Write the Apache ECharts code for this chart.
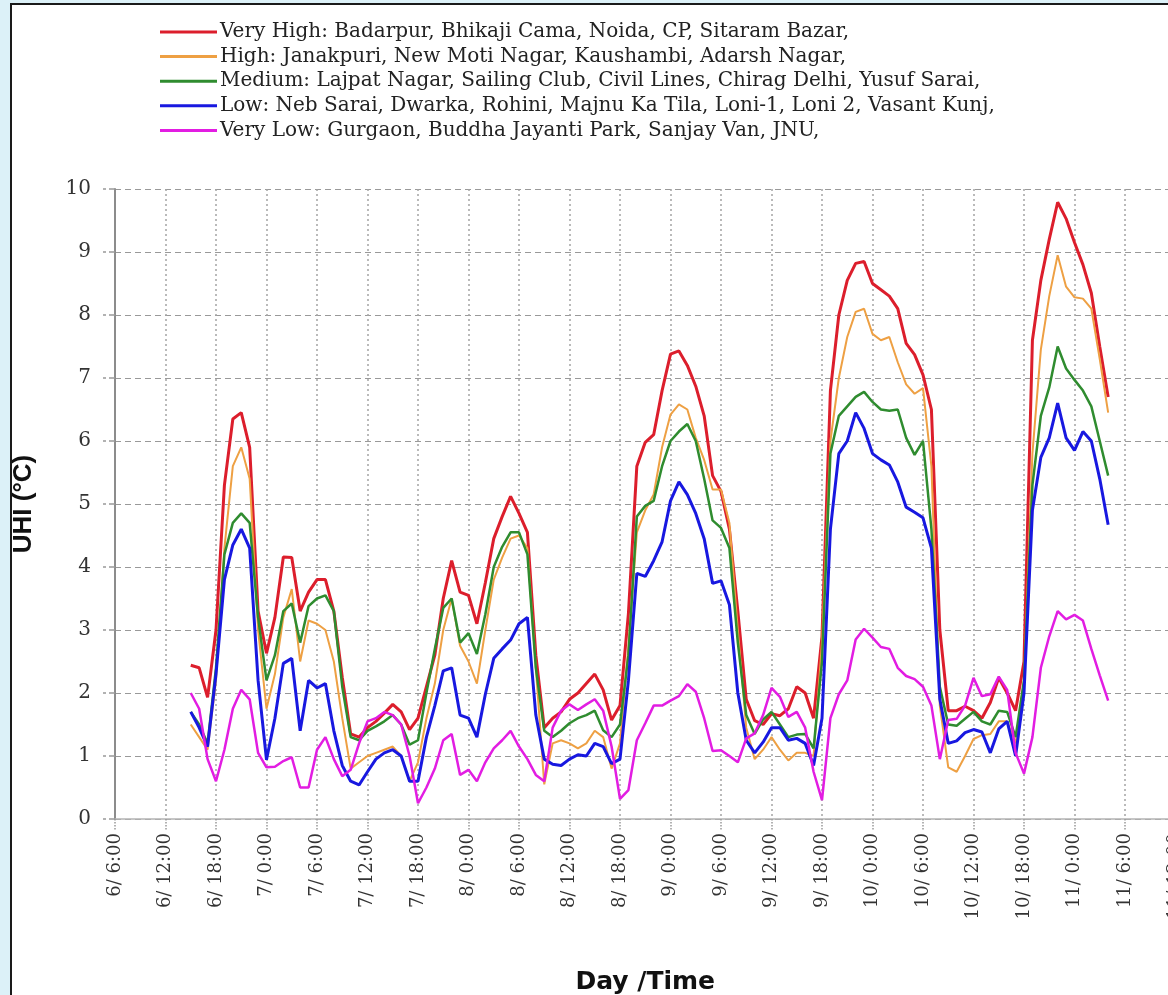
<!DOCTYPE html>
<html>
<head>
<meta charset="utf-8">
<script src="https://cdn.jsdelivr.net/npm/echarts@6/dist/echarts.min.js"></script>
<style>
  html, body { margin: 0; padding: 0; width: 1168px; height: 995px; overflow: hidden; background: #dcf1f8; }
  #frame { position: absolute; left: 10px; top: 3px; right: 0; bottom: 0; background: #ffffff;
           border-left: 2px solid #1a1a1a; border-top: 2px solid #1a1a1a; }
  #chart { position: absolute; left: 0; top: 0; width: 1168px; height: 995px; }
</style>
</head>
<body>
<div id="frame"></div>
<div id="chart"></div>
<script>
// Hours elapsed since 6/6:00
const hours = [9,10,11,12,13,14,15,16,17,18,19,20,21,22,23,24,25,26,27,28,29,30,31,32,33,34,35,36,37,38,
  39,40,41,42,43,44,45,46,47,48,49,50,51,52,53,54,55,56,57,58,59,60,61,62,63,64,65,66,67,68,
  69,70,71,72,73,74,75,76,77,78,79,80,81,82,83,84,85,86,87,88,89,90,91,92,93,94,95,96,97,98,
  99,100,101,102,103,104,105,106,107,108,109,110,111,112,113,114,115,116,117,118];

const tickLabels = ['6/ 6:00','6/ 12:00','6/ 18:00','7/ 0:00','7/ 6:00','7/ 12:00','7/ 18:00',
  '8/ 0:00','8/ 6:00','8/ 12:00','8/ 18:00','9/ 0:00','9/ 6:00','9/ 12:00','9/ 18:00',
  '10/ 0:00','10/ 6:00','10/ 12:00','10/ 18:00','11/ 0:00','11/ 6:00','11/ 12:00'];

const seriesNames = [
  'Very High: Badarpur, Bhikaji Cama, Noida, CP, Sitaram Bazar,',
  'High: Janakpuri, New Moti Nagar, Kaushambi, Adarsh Nagar,',
  'Medium: Lajpat Nagar, Sailing Club, Civil Lines, Chirag Delhi, Yusuf Sarai,',
  'Low: Neb Sarai, Dwarka, Rohini, Majnu Ka Tila, Loni-1, Loni 2, Vasant Kunj,',
  'Very Low: Gurgaon, Buddha Jayanti Park, Sanjay Van, JNU,'
];

const veryHigh = [2.44,2.4,1.93,3.0,5.3,6.35,6.45,5.9,3.3,2.63,
  3.2,4.16,4.15,3.3,3.6,3.8,3.8,3.3,2.25,1.35,
  1.3,1.45,1.55,1.68,1.82,1.7,1.42,1.6,2.1,2.6,
  3.5,4.1,3.6,3.55,3.1,3.75,4.45,4.8,5.12,4.85,
  4.55,2.6,1.45,1.6,1.7,1.9,2.0,2.15,2.3,2.05,
  1.57,1.8,3.26,5.6,5.98,6.1,6.8,7.38,7.43,7.2,
  6.87,6.4,5.45,5.2,4.6,3.3,1.9,1.56,1.5,1.67,
  1.64,1.75,2.1,2.0,1.6,2.9,6.8,8.0,8.55,8.82,
  8.85,8.5,8.4,8.3,8.1,7.55,7.37,7.05,6.5,3.0,
  1.72,1.72,1.79,1.72,1.6,1.85,2.24,2.0,1.72,2.5,
  7.6,8.55,9.2,9.79,9.53,9.15,8.8,8.35,7.5,6.7];

const high = [1.5,1.3,1.1,2.2,4.3,5.6,5.9,5.4,3.0,1.75,
  2.3,3.2,3.65,2.5,3.15,3.1,3.0,2.5,1.6,0.8,
  0.9,1.0,1.05,1.1,1.15,1.0,0.6,0.9,1.6,2.15,
  3.0,3.5,2.75,2.5,2.15,3.0,3.8,4.15,4.45,4.5,
  4.3,2.4,0.55,1.2,1.25,1.2,1.12,1.2,1.4,1.3,
  0.8,1.2,2.74,4.55,4.9,5.15,5.9,6.42,6.58,6.5,
  6.05,5.7,5.23,5.23,4.7,3.0,1.45,0.95,1.1,1.3,
  1.1,0.93,1.05,1.05,1.0,2.8,6.0,7.0,7.65,8.05,
  8.1,7.7,7.6,7.65,7.25,6.9,6.75,6.84,5.6,1.8,
  0.82,0.75,1.0,1.27,1.33,1.35,1.55,1.55,1.2,2.2,
  5.8,7.45,8.3,8.95,8.45,8.28,8.26,8.1,7.3,6.45];

const medium = [1.7,1.5,1.2,2.4,4.2,4.7,4.85,4.7,3.2,2.2,
  2.6,3.3,3.42,2.8,3.38,3.5,3.55,3.3,2.1,1.3,
  1.25,1.4,1.47,1.55,1.65,1.5,1.18,1.25,2.0,2.7,
  3.35,3.5,2.8,2.95,2.62,3.25,4.0,4.32,4.55,4.55,
  4.2,2.4,1.4,1.3,1.4,1.52,1.6,1.65,1.72,1.41,
  1.3,1.5,2.6,4.8,4.97,5.05,5.6,6.0,6.15,6.27,
  6.0,5.4,4.74,4.62,4.3,2.8,1.65,1.35,1.58,1.7,
  1.5,1.3,1.34,1.35,1.12,2.5,5.8,6.4,6.55,6.7,
  6.78,6.62,6.5,6.48,6.5,6.05,5.78,6.0,4.6,2.1,
  1.5,1.48,1.59,1.7,1.55,1.5,1.72,1.7,1.3,2.2,
  5.3,6.4,6.85,7.5,7.15,6.97,6.8,6.55,6.0,5.45];

const low = [1.7,1.45,1.15,2.3,3.8,4.35,4.6,4.3,2.2,0.94,
  1.6,2.47,2.55,1.4,2.2,2.08,2.15,1.4,0.85,0.6,
  0.54,0.75,0.95,1.05,1.1,1.0,0.6,0.6,1.3,1.8,
  2.35,2.4,1.65,1.6,1.3,1.98,2.55,2.7,2.84,3.1,
  3.2,1.65,0.95,0.87,0.85,0.95,1.02,1.0,1.2,1.15,
  0.88,0.95,2.2,3.9,3.85,4.1,4.4,5.05,5.35,5.15,
  4.85,4.45,3.74,3.78,3.4,2.0,1.25,1.05,1.22,1.45,
  1.45,1.25,1.28,1.2,0.85,1.6,4.6,5.8,6.0,6.45,
  6.2,5.8,5.7,5.62,5.35,4.95,4.87,4.78,4.3,1.9,
  1.2,1.24,1.37,1.42,1.38,1.05,1.43,1.55,1.0,2.0,
  4.9,5.74,6.05,6.6,6.05,5.85,6.15,6.0,5.4,4.67];

const veryLow = [2.0,1.75,0.95,0.6,1.1,1.75,2.05,1.9,1.05,0.82,
  0.83,0.92,0.98,0.5,0.5,1.1,1.3,0.95,0.68,0.78,
  1.2,1.55,1.6,1.7,1.65,1.5,1.0,0.25,0.5,0.8,
  1.25,1.35,0.7,0.78,0.6,0.9,1.12,1.25,1.4,1.15,
  0.95,0.7,0.6,1.45,1.72,1.82,1.73,1.82,1.9,1.72,
  1.15,0.32,0.46,1.25,1.52,1.8,1.8,1.88,1.95,2.14,
  2.02,1.6,1.08,1.09,1.0,0.9,1.28,1.36,1.65,2.08,
  1.94,1.62,1.7,1.45,0.75,0.3,1.6,1.98,2.2,2.85,
  3.02,2.88,2.73,2.7,2.4,2.27,2.22,2.1,1.8,0.95,
  1.57,1.59,1.8,2.24,1.95,1.98,2.26,2.05,1.05,0.72,
  1.3,2.4,2.9,3.3,3.17,3.24,3.15,2.7,2.28,1.88];

const seriesValues = [veryHigh, high, medium, low, veryLow];
const colors = ['#dc1e2c', '#eea043', '#2f8c2f', '#1818e0', '#e21de2'];
const widths = [3, 2, 2.5, 3, 2.5];

const chart = echarts.init(document.getElementById('chart'), null, { renderer: 'canvas' });

const series = seriesNames.map((name, i) => ({
  name: name,
  type: 'line',
  symbol: 'none',
  smooth: false,
  data: hours.map((h, j) => [h, seriesValues[i][j]]),
  lineStyle: { color: colors[i], width: widths[i] },
  itemStyle: { color: colors[i] }
}));

chart.setOption({
  animation: false,
  backgroundColor: 'transparent',
  legend: {
    orient: 'vertical',
    left: 160,
    top: 22,
    padding: 0,
    icon: 'rect',
    itemWidth: 57,
    itemHeight: 3,
    itemGap: 4.6,
    textStyle: { fontFamily: 'DejaVu Serif', fontSize: 20, color: '#222', lineHeight: 20, padding: [0, 0, 0, -2] },
    data: seriesNames
  },
  // the plot runs on past the right edge of the picture, as in the source figure
  grid: { left: 115, top: 189, width: 1060.5, height: 630, containLabel: false, outerBoundsMode: 'none' },
  xAxis: {
    type: 'value',
    min: 0,
    max: 126,
    interval: 6,
    name: 'Day /Time',
    nameLocation: 'middle',
    nameGap: 151,
    nameTextStyle: { fontFamily: 'DejaVu Sans', fontWeight: 'bold', fontSize: 25, color: '#111' },
    axisLine: { lineStyle: { color: '#b4b4b4', width: 1.5 } },
    axisTick: { show: true, length: 12, lineStyle: { color: '#999', type: 'dotted', width: 1.5 } },
    axisLabel: {
      rotate: 90, margin: 14, fontFamily: 'DejaVu Serif', fontSize: 18, color: '#333',
      formatter: v => tickLabels[Math.round(v / 6)] || ''
    },
    splitLine: { show: true, lineStyle: { color: '#a4a4a4', type: [2, 3], width: 1.5 } }
  },
  yAxis: {
    type: 'value',
    min: 0,
    max: 10,
    interval: 1,
    name: 'UHI (°C)',
    nameLocation: 'middle',
    nameRotate: 90,
    nameGap: 78,
    nameTextStyle: { fontFamily: 'Liberation Sans', fontWeight: 'bold', fontSize: 26, color: '#111' },
    axisLine: { show: true, lineStyle: { color: '#8c8c8c', width: 2 } },
    axisTick: { show: true, length: 12, lineStyle: { color: '#999', type: 'dashed', width: 1.5 } },
    axisLabel: { margin: 24, fontFamily: 'DejaVu Serif', fontSize: 20, color: '#333' },
    splitLine: { show: true, lineStyle: { color: '#999', type: [6, 4], width: 1.2 } }
  },
  series: series
});
</script>
</body>
</html>
